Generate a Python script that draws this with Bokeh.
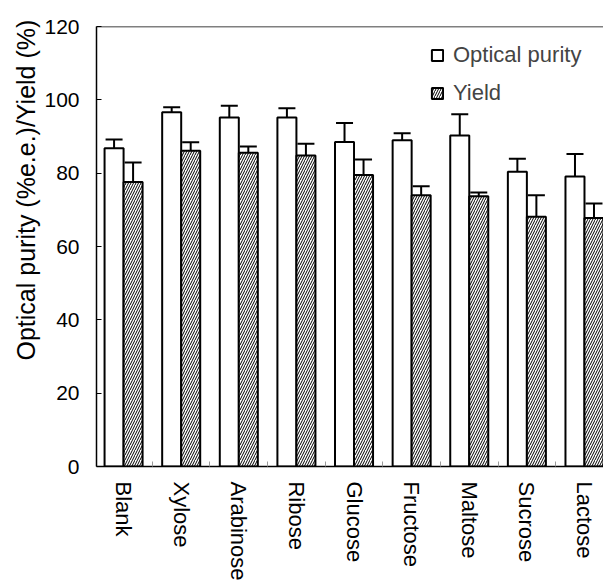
import pandas as pd
from bokeh.plotting import figure
from bokeh.models import (ColumnDataSource, Whisker, TeeHead, FixedTicker,
                          Legend, LegendItem, Span, Title)
from bokeh.embed import file_html
from bokeh.resources import INLINE

categories = ["Blank", "Xylose", "Arabinose", "Ribose", "Glucose",
              "Fructose", "Maltose", "Sucrose", "Lactose"]
optical_purity = [86.8, 96.6, 95.2, 95.2, 88.5, 89.0, 90.3, 80.4, 79.1]
optical_purity_err = [2.4, 1.4, 3.2, 2.5, 5.2, 1.9, 5.8, 3.5, 6.1]
yield_pct = [77.6, 86.1, 85.6, 84.8, 79.5, 74.0, 73.7, 68.1, 67.8]
yield_err = [5.3, 2.3, 1.7, 3.2, 4.2, 2.4, 1.0, 5.9, 3.9]
y_ticks = [0, 20, 40, 60, 80, 100, 120]
y_label = "Optical purity (%e.e.)/Yield (%)"

FONT = "Liberation Sans"
BW = 0.33

df = pd.DataFrame({"cat": categories,
                   "opt": optical_purity, "opt_err": optical_purity_err,
                   "yld": yield_pct, "yld_err": yield_err})
df["center"] = [i + 0.5 for i in range(len(categories))]
df["xo"] = df["center"] - BW / 2
df["xy"] = df["center"] + BW / 2
df["opt_up"] = df["opt"] + df["opt_err"]
df["opt_lo"] = df["opt"] - df["opt_err"]
df["yld_up"] = df["yld"] + df["yld_err"]
df["yld_lo"] = df["yld"] - df["yld_err"]
src = ColumnDataSource(df)

p = figure(width=603, height=586, output_backend="svg", toolbar_location=None,
           x_range=(0.03, 8.83), y_range=(0, 120),
           min_border_left=96, min_border_top=26, min_border_right=0,
           min_border_bottom=120)
p.background_fill_color = "white"
p.border_fill_color = "white"
p.outline_line_color = None
p.xgrid.visible = False
p.ygrid.visible = False

r_opt = p.vbar(x="xo", top="opt", bottom=0, width=BW, source=src,
               fill_color="white", line_color="black", line_width=2)
r_yld = p.vbar(x="xy", top="yld", bottom=0, width=BW, source=src,
               fill_color="white", line_color="black", line_width=2,
               hatch_pattern="right_diagonal_line", hatch_color="black",
               hatch_scale=5, hatch_weight=1)

for base, up, lo in [("xo", "opt_up", "opt_lo"), ("xy", "yld_up", "yld_lo")]:
    w = Whisker(source=src, base=base, upper=up, lower=lo,
                line_color="black", line_width=2,
                upper_head=TeeHead(size=17, line_width=2, line_color="black"),
                lower_head=TeeHead(size=17, line_width=2, line_color="black"))
    p.add_layout(w)

# top frame line
p.add_layout(Span(location=120, dimension="width", line_color="black", line_width=1.5))

# y axis
p.yaxis.ticker = FixedTicker(ticks=y_ticks)
p.yaxis.axis_line_color = "black"
p.yaxis.axis_line_width = 1.5
p.yaxis.major_tick_in = 5
p.yaxis.major_tick_out = 0
p.yaxis.minor_tick_line_color = None
p.yaxis.major_label_text_font = FONT
p.yaxis.major_label_text_font_size = "21px"
p.yaxis.major_label_text_color = "black"
p.yaxis.major_label_standoff = 17

# x axis
centers = list(df["center"])
bounds = [float(i) for i in range(1, len(categories) + 1)]
p.xaxis.ticker = FixedTicker(ticks=centers, minor_ticks=bounds)
p.xaxis.major_label_overrides = {c: n for c, n in zip(centers, categories)}
p.xaxis.major_label_orientation = "vertical"
p.xaxis.axis_line_color = "black"
p.xaxis.axis_line_width = 1.5
p.xaxis.major_tick_in = 0
p.xaxis.major_tick_out = 0
p.xaxis.minor_tick_in = 5
p.xaxis.minor_tick_out = 0
p.xaxis.minor_tick_line_color = "#999999"
p.xaxis.major_label_text_font = FONT
p.xaxis.major_label_text_font_size = "22px"
p.xaxis.major_label_text_color = "black"
p.xaxis.major_label_standoff = 15

# y label as a left-side title, shifted up
p.add_layout(Title(text=y_label, align="left", offset=106,
                   text_font=FONT, text_font_size="25px",
                   text_font_style="normal", text_color="black",
                   standoff=4), "left")

legend = Legend(items=[LegendItem(label="Optical purity", renderers=[r_opt]),
                       LegendItem(label="Yield", renderers=[r_yld])],
                location=(334, 360))
legend.border_line_color = None
legend.background_fill_alpha = 0
legend.label_text_font = FONT
legend.label_text_font_size = "22px"
legend.glyph_width = 14
legend.glyph_height = 14
legend.spacing = 12
legend.padding = 0
legend.margin = 0
legend.label_standoff = 9
p.add_layout(legend)

open("out.html", "w").write(file_html(p, INLINE))
